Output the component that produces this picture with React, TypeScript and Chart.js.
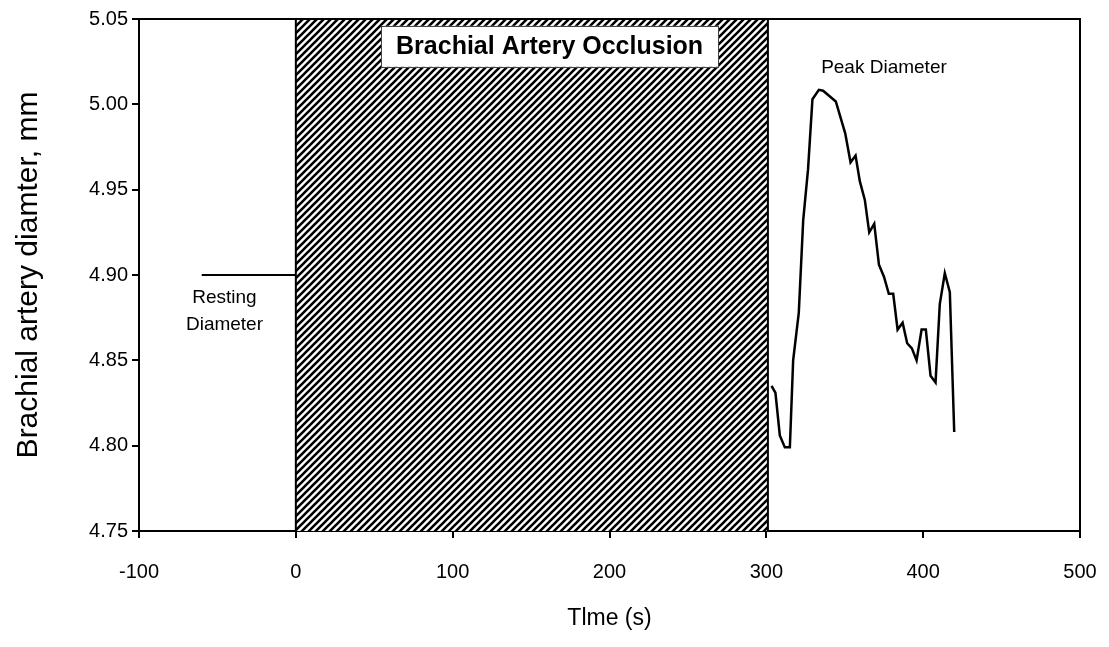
import React, { useEffect, useRef } from 'react';
import { Chart, registerables } from 'chart.js';

Chart.register(...registerables);

// ---- data ----
const timeS = [
  303.3, 305.8, 308.6, 311.8, 315.0, 317.1, 320.7, 323.5, 326.6, 329.4,
  333.5, 336.2, 344.3, 350.3, 353.7, 356.9, 359.6, 362.8, 365.6, 368.8,
  371.8, 375.0, 378.1, 380.9, 383.7, 386.9, 389.8, 392.8, 395.8, 399.0,
  401.7, 404.7, 407.9, 410.6, 413.8, 417.0, 419.8,
];
const diameterMm = [
  4.835, 4.831, 4.806, 4.799, 4.799, 4.85, 4.878, 4.932, 4.962, 5.003,
  5.0085, 5.008, 5.0017, 4.983, 4.966, 4.97, 4.955, 4.944, 4.925, 4.93,
  4.906, 4.899, 4.889, 4.889, 4.868, 4.872, 4.86, 4.857, 4.85, 4.868,
  4.868, 4.841, 4.837, 4.883, 4.901, 4.89, 4.808,
];
const occlusionX = [0, 0, 301, 301];
const occlusionY = [4.75, 5.05, 5.05, 4.75];
const restingX = [-60, 0];
const restingY = [4.9, 4.9];
const xTickValues = [-100, 0, 100, 200, 300, 400, 500];
const yTickValues = [4.75, 4.8, 4.85, 4.9, 4.95, 5.0, 5.05];

const occlusionLabel = 'Brachial Artery Occlusion';
const occlusionLabelAt = [161.8, 5.034];
const peakLabel = 'Peak Diameter';
const peakLabelAt = [375, 5.0214];
const restingLabel = ['Resting', 'Diameter'];
const restingLabelAt = [-45.5, 4.879];

const FONT = '"Liberation Sans", Arial, Helvetica, sans-serif';

function makeHatch(): CanvasPattern | string {
  const p = 7;
  const c = document.createElement('canvas');
  c.width = p;
  c.height = p;
  const g = c.getContext('2d');
  if (!g) return '#888';
  g.fillStyle = '#fff';
  g.fillRect(0, 0, p, p);
  g.strokeStyle = '#000';
  g.lineWidth = 2.6;
  g.beginPath();
  g.moveTo(0, p);
  g.lineTo(p, 0);
  g.moveTo(-1, 1);
  g.lineTo(1, -1);
  g.moveTo(p - 1, p + 1);
  g.lineTo(p + 1, p - 1);
  g.stroke();
  const pat = g.createPattern(c, 'repeat');
  return pat || '#888';
}

const annotationPlugin = {
  id: 'annotations',
  afterDatasetsDraw(chart: any) {
    const { ctx, chartArea: a, scales } = chart;
    const x = scales.x;
    const y = scales.y;
    ctx.save();

    // occlusion label box
    ctx.font = `bold 25px ${FONT}`;
    const bx = x.getPixelForValue(occlusionLabelAt[0]);
    const by = y.getPixelForValue(occlusionLabelAt[1]);
    const tw = ctx.measureText(occlusionLabel).width;
    const bw = tw + 30;
    const bh = 41;
    ctx.fillStyle = '#fff';
    ctx.fillRect(bx - bw / 2, by - bh / 2, bw, bh);
    ctx.strokeStyle = '#444';
    ctx.lineWidth = 1;
    ctx.strokeRect(Math.round(bx - bw / 2) + 0.5, Math.round(by - bh / 2) + 0.5, Math.round(bw), Math.round(bh));
    ctx.fillStyle = '#000';
    ctx.textAlign = 'center';
    ctx.textBaseline = 'middle';
    ctx.fillText(occlusionLabel, bx, by + 1);

    // plain annotations
    ctx.font = `19px ${FONT}`;
    ctx.fillText(peakLabel, x.getPixelForValue(peakLabelAt[0]), y.getPixelForValue(peakLabelAt[1]));
    const rx = x.getPixelForValue(restingLabelAt[0]);
    const ry = y.getPixelForValue(restingLabelAt[1]);
    ctx.fillText(restingLabel[0], rx, ry - 13.5);
    ctx.fillText(restingLabel[1], rx, ry + 13.5);

    // frame (top and right edges)
    ctx.strokeStyle = '#000';
    ctx.lineWidth = 2;
    ctx.beginPath();
    ctx.moveTo(a.left, a.top);
    ctx.lineTo(a.right, a.top);
    ctx.lineTo(a.right, a.bottom);
    ctx.stroke();
    ctx.restore();
  },
};

export default function App() {
  const ref = useRef<HTMLCanvasElement>(null);

  useEffect(() => {
    if (!ref.current) return;
    const hatch = makeHatch();
    const chart = new Chart(ref.current, {
      type: 'scatter',
      data: {
        datasets: [
          {
            label: 'Occlusion',
            data: occlusionX.map((v, i) => ({ x: v, y: occlusionY[i] })),
            showLine: true,
            fill: 'start',
            backgroundColor: hatch as any,
            borderColor: '#000',
            borderWidth: 2,
            pointRadius: 0,
            tension: 0,
            clip: false as any,
          },
          {
            label: 'Resting',
            data: restingX.map((v, i) => ({ x: v, y: restingY[i] })),
            showLine: true,
            borderColor: '#000',
            borderWidth: 2,
            pointRadius: 0,
          },
          {
            label: 'Diameter',
            data: timeS.map((v, i) => ({ x: v, y: diameterMm[i] })),
            showLine: true,
            borderColor: '#000',
            borderWidth: 2.5,
            pointRadius: 0,
            tension: 0,
          },
        ],
      },
      options: {
        animation: false,
        responsive: true,
        maintainAspectRatio: false,
        devicePixelRatio: 1,
        layout: { padding: { top: 19, right: 29, left: 0, bottom: 0 } },
        plugins: {
          legend: { display: false },
          tooltip: { enabled: false },
        },
        scales: {
          x: {
            type: 'linear',
            min: -100,
            max: 500,
            afterBuildTicks: (s: any) => {
              s.ticks = xTickValues.map((v) => ({ value: v }));
            },
            afterFit: (s: any) => {
              s.height = 116;
              s.paddingLeft = 0;
              s.paddingRight = 0;
            },
            ticks: {
              color: '#000',
              font: { family: FONT, size: 20 },
              padding: 22,
              maxRotation: 0,
              callback: (v: any) => String(v),
            },
            grid: {
              drawOnChartArea: false,
              drawTicks: true,
              tickLength: 7,
              color: '#000',
              lineWidth: 2,
            },
            border: { color: '#000', width: 2 },
            title: {
              display: true,
              text: 'Tlme (s)',
              color: '#000',
              font: { family: FONT, size: 23 },
              padding: { top: 0, bottom: 15 },
            },
          },
          y: {
            type: 'linear',
            min: 4.75,
            max: 5.05,
            afterBuildTicks: (s: any) => {
              s.ticks = yTickValues.map((v) => ({ value: v }));
            },
            afterFit: (s: any) => {
              s.width = 139;
              s.paddingTop = 0;
              s.paddingBottom = 0;
            },
            ticks: {
              color: '#000',
              font: { family: FONT, size: 20 },
              padding: 4,
              callback: (v: any) => Number(v).toFixed(2),
            },
            grid: {
              drawOnChartArea: false,
              drawTicks: true,
              tickLength: 7,
              color: '#000',
              lineWidth: 2,
            },
            border: { color: '#000', width: 2 },
            title: {
              display: true,
              text: 'Brachial artery diamter, mm',
              color: '#000',
              font: { family: FONT, size: 30 },
              padding: { top: 11, bottom: 0 },
            },
          },
        },
      },
      plugins: [annotationPlugin],
    });
    return () => chart.destroy();
  }, []);

  return (
    <div style={{ position: 'fixed', left: 0, top: 0, width: 1109, height: 647, background: '#fff' }}>
      <canvas ref={ref} />
    </div>
  );
}
